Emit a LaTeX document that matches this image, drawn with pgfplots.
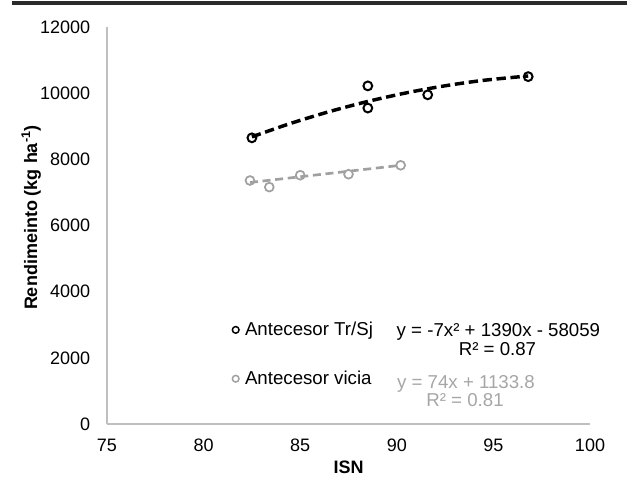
\documentclass[border=0pt]{standalone}
\usepackage{fontspec}
\setmainfont{Liberation Sans}
\usepackage{pgfplots}
\pgfplotsset{compat=1.18}
\definecolor{axgray}{HTML}{BFBFBF}
\definecolor{ptgray}{HTML}{A0A0A0}
\definecolor{eqgray}{HTML}{A6A6A6}
\definecolor{barblk}{HTML}{2B2B2B}

\begin{document}
\begin{tikzpicture}
\useasboundingbox (0pt,0pt) rectangle (470.25pt,361.5pt);
% dark rule at the top of the figure
\fill[barblk] (9pt,357.75pt) rectangle (470.25pt,361.1pt);

\begin{axis}[
  at={(80.25pt,43.5pt)}, anchor=south west,
  scale only axis,
  width=362.25pt, height=297.75pt,
  xmin=75, xmax=100, ymin=0, ymax=12000,
  xtick={75,80,85,90,95,100},
  ytick={0,2000,4000,6000,8000,10000,12000},
  axis x line*=bottom, axis y line*=left,
  axis line style={axgray, line width=1.2pt, -},
  major tick length=0pt,
  scaled y ticks=false,
  /pgf/number format/.cd, 1000 sep={}, assume math mode=true, /pgfplots/.cd,
  tick label style={font=\fontsize{13.5}{15}\selectfont, inner sep=0pt},
  xticklabel style={anchor=north, yshift=-11pt},
  yticklabel style={anchor=east, xshift=-12.5pt},
  xlabel={\textbf{ISN}},
  xlabel style={font=\fontsize{13.5}{15}\selectfont, at={(axis description cs:0.5,-0.108)}, anchor=center},
  ylabel={\textbf{Rendimeinto (kg ha\textsuperscript{-1})}},
  ylabel style={font=\fontsize{13.5}{15}\selectfont, at={(axis description cs:-0.157,0.52)}, anchor=center},
  clip=false,
  legend cell align=left,
  legend style={at={(axis description cs:0.259,0.259)}, anchor=north west,
    draw=none, fill=none, inner sep=0pt, row sep=24pt, column sep=4pt,
    font=\fontsize{14}{16}\selectfont, nodes={inner sep=0.5pt}},
  legend image code/.code={\draw[#1, mark size=2.5pt, line width=1.1pt] plot coordinates {(0pt,0pt)};},
]
% Antecesor Tr/Sj
\addplot[only marks, mark=o, mark size=3.3pt, black, line width=1.5pt]
  coordinates {(82.5,8650) (88.5,10220) (88.5,9550) (91.6,9950) (96.8,10500)};
\addlegendentry{Antecesor Tr/Sj}
% Antecesor vicia
\addplot[only marks, mark=o, mark size=3.3pt, ptgray, line width=1.3pt]
  coordinates {(82.4,7360) (83.4,7160) (85.0,7520) (87.5,7550) (90.2,7820)};
\addlegendentry{Antecesor vicia}

% trend lines
\addplot[forget plot, black, line width=2.6pt, dash pattern=on 7pt off 3.5pt, smooth]
  coordinates {(82.5,8680) (84.5,9085) (86.5,9441) (88.5,9750) (90.5,10010) (92.5,10223) (94.5,10388) (96.8,10520)};
\addplot[forget plot, ptgray, line width=2pt, dash pattern=on 6pt off 3.5pt]
  coordinates {(82.4,7300) (90.2,7820)};

% trendline equations
\node[anchor=base, font=\fontsize{14}{16}\selectfont] at (axis cs:95.26,2648) {y = -7x² + 1390x - 58059};
\node[anchor=base, font=\fontsize{14}{16}\selectfont] at (axis cs:95.21,2074) {R² = 0.87};
\node[anchor=base, text=eqgray, font=\fontsize{14}{16}\selectfont] at (axis cs:93.58,1076) {y = 74x + 1133.8};
\node[anchor=base, text=eqgray, font=\fontsize{14}{16}\selectfont] at (axis cs:93.53,514) {R² = 0.81};
\end{axis}
\end{tikzpicture}
\end{document}
